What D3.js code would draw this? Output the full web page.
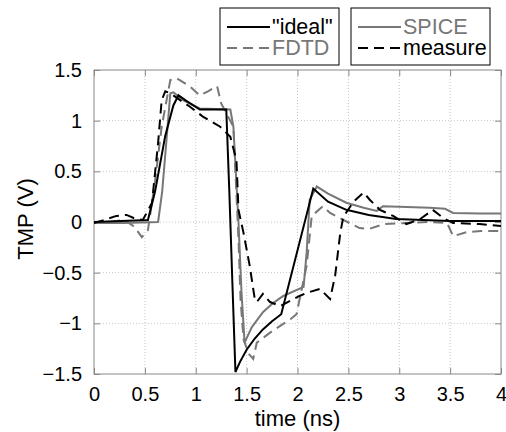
<!DOCTYPE html>
<html>
<head>
<meta charset="utf-8">
<script src="https://cdn.jsdelivr.net/npm/d3@7"></script>
<style>
  body { margin: 0; background: #fff; }
  svg text { font-family: "Liberation Sans", Arial, Helvetica, sans-serif; }
</style>
</head>
<body>
<svg width="506" height="432"></svg>
<script>
// values: [time ns, volts]
var ideal = [[0, 0], [0.53, 0.02], [0.6, 0.3], [0.7, 0.85], [0.78, 1.15], [0.83, 1.25], [0.9, 1.2], [1.04, 1.11], [1.3, 1.11], [1.33, 0.3], [1.36, -0.6], [1.39, -1.48], [1.435, -1.38], [1.5, -1.26], [1.58, -1.15], [1.66, -1.06], [1.75, -0.98], [1.84, -0.91], [2.155, 0.33], [2.3, 0.2], [2.48, 0.12], [2.7, 0.07], [2.97, 0.03], [3.5, 0.01], [4, 0.01]];
var spice = [[0, -0.01], [0.3, -0.01], [0.63, 0.0], [0.67, 0.3], [0.71, 0.78], [0.75, 1.27], [0.78, 1.28], [0.88, 1.2], [1.04, 1.12], [1.34, 1.11], [1.37, 0.94], [1.42, 0.0], [1.45, -0.7], [1.48, -1.19], [1.55, -1.04], [1.66, -0.89], [1.76, -0.8], [1.86, -0.73], [2.06, -0.64], [2.09, -0.3], [2.12, 0.22], [2.19, 0.35], [2.3, 0.28], [2.48, 0.19], [2.65, 0.14], [2.78, 0.11], [2.84, 0.155], [3.0, 0.15], [3.3, 0.14], [3.45, 0.13], [3.53, 0.09], [3.8, 0.085], [4, 0.084]];
var fdtd = [[0, -0.01], [0.15, 0.0], [0.3, 0.02], [0.4, -0.05], [0.47, -0.15], [0.53, -0.08], [0.6, 0.4], [0.665, 0.94], [0.75, 1.4], [0.81, 1.42], [0.94, 1.34], [1.04, 1.25], [1.12, 1.29], [1.21, 1.34], [1.25, 1.17], [1.37, 0.94], [1.42, -0.17], [1.44, -0.76], [1.47, -1.16], [1.52, -1.3], [1.565, -1.35], [1.6, -1.19], [1.76, -1.07], [1.93, -0.96], [1.99, -0.91], [2.09, -0.43], [2.14, 0.06], [2.25, 0.155], [2.32, 0.09], [2.45, 0.02], [2.61, -0.06], [2.7, -0.07], [2.85, -0.02], [3.07, -0.01], [3.3, 0.0], [3.47, -0.01], [3.53, -0.14], [3.66, -0.1], [3.8, -0.09], [4, -0.09]];
var measure = [[0, -0.01], [0.1, 0.02], [0.22, 0.06], [0.32, 0.07], [0.39, 0.04], [0.48, 0.02], [0.57, 0.19], [0.63, 0.78], [0.665, 1.2], [0.7, 1.29], [0.75, 1.27], [0.85, 1.2], [0.94, 1.14], [1.07, 1.04], [1.24, 0.94], [1.34, 0.84], [1.4, 0.61], [1.42, 0.12], [1.47, -0.11], [1.53, -0.43], [1.58, -0.76], [1.6, -0.79], [1.66, -0.71], [1.73, -0.79], [1.83, -0.83], [1.96, -0.76], [2.02, -0.73], [2.09, -0.7], [2.22, -0.66], [2.32, -0.76], [2.37, -0.53], [2.42, -0.11], [2.45, 0.05], [2.55, 0.2], [2.65, 0.29], [2.71, 0.22], [2.81, 0.12], [2.94, 0.06], [3.07, -0.02], [3.2, 0.025], [3.33, 0.12], [3.43, 0.04], [3.53, -0.01], [3.79, -0.02], [4, -0.04]];

var xTicks = [0, 0.5, 1, 1.5, 2, 2.5, 3, 3.5, 4];
var yTicks = [-1.5, -1, -0.5, 0, 0.5, 1, 1.5];

var svg = d3.select("svg"),
    margin = {top: 70, right: 5, bottom: 58, left: 94},
    width = 506 - margin.left - margin.right,
    height = 432 - margin.top - margin.bottom;

var x = d3.scaleLinear().domain([0, 4]).range([0, width]);
var y = d3.scaleLinear().domain([-1.5, 1.5]).range([height, 0]);

var g = svg.append("g")
    .attr("transform", "translate(" + margin.left + "," + margin.top + ")");

// dotted grid
g.selectAll(".gx").data(xTicks.slice(1, -1)).enter().append("line")
    .attr("x1", d => x(d)).attr("x2", d => x(d))
    .attr("y1", 0).attr("y2", height)
    .attr("stroke", "#c8c8c8").attr("stroke-dasharray", "1,2");
g.selectAll(".gy").data(yTicks.slice(1, -1)).enter().append("line")
    .attr("y1", d => y(d)).attr("y2", d => y(d))
    .attr("x1", 0).attr("x2", width)
    .attr("stroke", "#c8c8c8").attr("stroke-dasharray", "1,2");

// axes, ticks pointing inward
function styleAxis(sel) {
    sel.select(".domain").remove();
    sel.selectAll(".tick line").attr("stroke", "#888");
    sel.selectAll("text").attr("font-size", 20).attr("fill", "#000");
}
g.append("g").attr("transform", "translate(0," + height + ")")
    .call(d3.axisBottom(x).tickValues(xTicks).tickFormat(d3.format("")).tickSizeInner(-6).tickPadding(13))
    .call(styleAxis);
g.append("g")
    .call(d3.axisTop(x).tickValues(xTicks).tickFormat("").tickSizeInner(-6))
    .call(styleAxis);
g.append("g")
    .call(d3.axisLeft(y).tickValues(yTicks).tickFormat(d3.format("")).tickSizeInner(-6).tickPadding(12))
    .call(styleAxis);
g.append("g").attr("transform", "translate(" + width + ",0)")
    .call(d3.axisRight(y).tickValues(yTicks).tickFormat("").tickSizeInner(-6))
    .call(styleAxis);

g.append("rect")
    .attr("width", width).attr("height", height)
    .attr("fill", "none").attr("stroke", "#888").attr("stroke-width", 1);

var line = d3.line().x(d => x(d[0])).y(d => y(d[1]));

var series = [
    {name: "\"ideal\"", data: ideal, color: "#000", dash: null},
    {name: "FDTD", data: fdtd, color: "#777", dash: "10,6"},
    {name: "SPICE", data: spice, color: "#777", dash: null},
    {name: "measure", data: measure, color: "#000", dash: "10,6"}
];

svg.append("clipPath").attr("id", "plot").append("rect")
    .attr("width", width).attr("height", height + 1);

g.selectAll(".curve").data([series[1], series[2], series[3], series[0]]).enter().append("path")
    .attr("clip-path", "url(#plot)")
    .attr("d", d => line(d.data))
    .attr("fill", "none")
    .attr("stroke", d => d.color)
    .attr("stroke-width", 2)
    .attr("stroke-dasharray", d => d.dash);

// axis titles
svg.append("text")
    .attr("x", margin.left + width / 2).attr("y", 426)
    .attr("text-anchor", "middle").attr("font-size", 22)
    .text("time (ns)");
svg.append("text")
    .attr("transform", "translate(33,219) rotate(-90)")
    .attr("text-anchor", "middle").attr("font-size", 22)
    .text("TMP (V)");

// two legend boxes
var boxes = [
    {x: 220, w: 119, items: [series[0], series[1]]},
    {x: 351, w: 139, items: [series[2], series[3]]}
];
boxes.forEach(function (b) {
    var lg = svg.append("g").attr("transform", "translate(" + b.x + ",8)");
    lg.append("rect").attr("width", b.w).attr("height", 57)
        .attr("fill", "#fff").attr("stroke", "#000").attr("stroke-width", 1);
    b.items.forEach(function (d, i) {
        var yy = 19 + i * 21;
        lg.append("line")
            .attr("x1", 7).attr("x2", 50).attr("y1", yy).attr("y2", yy)
            .attr("stroke", d.color).attr("stroke-width", 2)
            .attr("stroke-dasharray", d.dash);
        lg.append("text")
            .attr("x", 52).attr("y", yy + 7)
            .attr("font-size", 21.5).attr("fill", d.color)
            .text(d.name);
    });
});
</script>
</body>
</html>
